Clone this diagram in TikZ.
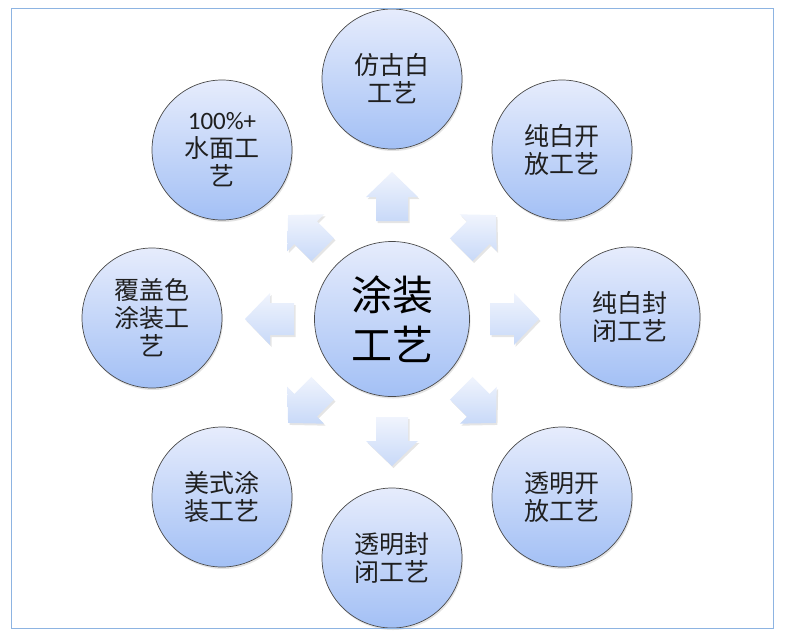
\documentclass[tikz,border=0pt]{standalone}
\usepackage{fontspec}
\newfontfamily\cjk{Noto Sans CJK SC}
\newfontfamily\latinsans{Carlito}
\usetikzlibrary{shadows}
\definecolor{bubtop}{HTML}{E6ECFC}
\definecolor{bubbot}{HTML}{A3C0F5}
\definecolor{arrtop}{HTML}{F0F4FD}
\definecolor{arrbot}{HTML}{C8D9F8}
\definecolor{framecol}{HTML}{8DB4E2}
\definecolor{rimcol}{HTML}{4A4A4A}
\newcommand\APt[2]{({\cx+(#1)*\c-(#2)*\s},{\cy+(#1)*\s+(#2)*\c})}
\begin{document}
\begin{tikzpicture}[x=1pt,y=-1pt,
  bubble/.style={circle, draw=rimcol, line width=0.7pt, top color=bubtop, bottom color=bubbot,
    minimum size=140pt, inner sep=0pt, align=center, text=black!88,
    font=\cjk\fontsize{25}{28}\selectfont,
    drop shadow={shadow xshift=1pt, shadow yshift=-2pt, opacity=0.22}},
  hub/.style={bubble, minimum size=155pt, font=\cjk\fontsize{41}{50}\selectfont, text=black},
  blockarrow/.style={top color=arrtop, bottom color=arrbot, draw=none},
  arrowshadow/.style={fill=black, opacity=0.10, draw=none}
]
\useasboundingbox (0,0) rectangle (800,638);
\fill[white] (0,0) rectangle (800,638);
\def\cx{392}\def\cy{319}
% block arrows
\foreach \a in {0,45,...,315}{
  \pgfmathsetmacro\c{cos(\a)}
  \pgfmathsetmacro\s{sin(\a)}
  \begin{scope}[shift={(1.5,2)}]
    \fill[arrowshadow] \APt{98}{-16} -- \APt{122}{-16} -- \APt{122}{-26} -- \APt{147}{0}
      -- \APt{122}{26} -- \APt{122}{16} -- \APt{98}{16} -- cycle;
  \end{scope}
  \shade[blockarrow] \APt{98}{-16} -- \APt{122}{-16} -- \APt{122}{-26} -- \APt{147}{0}
      -- \APt{122}{26} -- \APt{122}{16} -- \APt{98}{16} -- cycle;
}
% nodes
\node[hub] (hub) at (392,319) {涂装\\工艺};
\node[bubble] (top) at (392,79) {仿古白\\工艺};
\node[bubble] (tr) at (562,150) {纯白开\\放工艺};
\node[bubble] (r) at (630,317) {纯白封\\闭工艺};
\node[bubble] (br) at (562,497) {透明开\\放工艺};
\node[bubble] (bot) at (392,558) {透明封\\闭工艺};
\node[bubble] (bl) at (222,497) {美式涂\\装工艺};
\node[bubble] (l) at (152,318) {覆盖色\\涂装工\\艺};
\node[bubble] (tl) at (222,150) {{\latinsans 100\%+}\\水面工\\艺};
% frame
\draw[framecol, line width=1pt] (11.5,8.5) rectangle (773.5,628);
\end{tikzpicture}
\end{document}
